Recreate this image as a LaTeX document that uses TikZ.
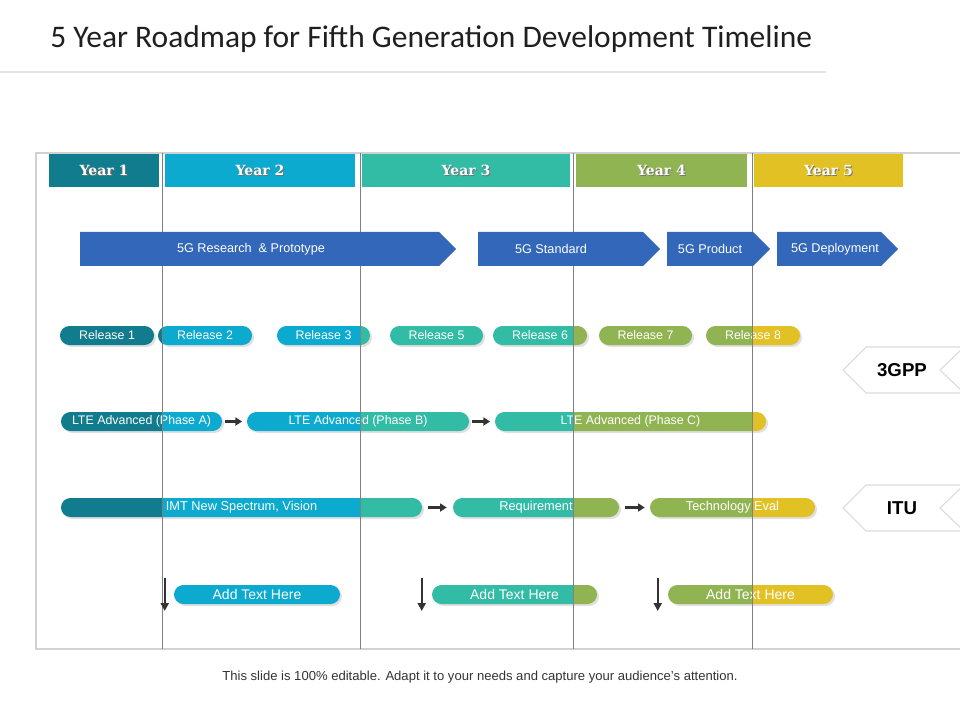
\documentclass[tikz,border=0pt]{standalone}
\usepackage{fontspec}
\setmainfont{Liberation Sans}
\newfontfamily\titlefont{Carlito}
\newfontfamily\yearfont{DejaVu Serif}
\usetikzlibrary{arrows.meta}
\definecolor{yA}{RGB}{16,124,141}
\definecolor{yB}{RGB}{12,170,206}
\definecolor{yC}{RGB}{50,187,165}
\definecolor{yD}{RGB}{145,180,82}
\definecolor{yE}{RGB}{226,193,36}
\definecolor{chevblue}{RGB}{50,103,186}
\definecolor{arrgray}{RGB}{51,51,51}
\tikzstyle{yearbox}=[draw=none,shape=rectangle,inner sep=0,minimum height=24.75pt]
\tikzstyle{yeartext}=[inner sep=0,text=white,font=\yearfont\bfseries\fontsize{10.5}{12}\selectfont]
\tikzstyle{chevtext}=[inner sep=0,text=white,font=\fontsize{9.5}{11}\selectfont]
\tikzstyle{pilltext}=[inner sep=0,shape=rectangle,text=white,minimum height=14.25pt]
\tikzstyle{tabline}=[draw=black!14,fill=white,line width=0.8pt]
\tikzstyle{tabtext}=[inner sep=0,font=\bfseries\fontsize{14}{16}\selectfont]
\tikzstyle{harrow}=[draw=arrgray,line width=1.7pt,-{Triangle[length=5pt,width=6pt]}]
\tikzstyle{darrow}=[draw=arrgray,line width=1.5pt,-{Triangle[length=6pt,width=6pt]}]
% pill: name, x1, x2, y, font size, text
\newcommand{\pill}[6]{%
  \fill[black,opacity=.12,rounded corners=7.1pt] (#2+2,#4-7.5) rectangle (#3+2,#4+11.5);
  \begin{scope}
    \clip[rounded corners=7.1pt] (#2,#4-9.5) rectangle (#3,#4+9.5);
    \foreach \a/\b/\c in {0/162/yA,162/360/yB,360/573/yC,573/752/yD,752/962/yE}
      \fill[\c] (\a,0) rectangle (\b,720);
  \end{scope}
  \node[pilltext,minimum width={(#3-#2)*0.75pt},font=\fontsize{#5}{#5}\selectfont] (#1) at ({(#2+#3)/2},#4) {#6};}
% chevron: name, x1, tip, text x, text
\newcommand{\chev}[5]{%
  \fill[chevblue] (#2,232) -- (#3-17,232) -- (#3,249) -- (#3-17,266) -- (#2,266) -- cycle;
  \node[chevtext] (#1) at (#4,249) {#5};}
% year header: name, centre, width, colour, text
\newcommand{\yearhead}[5]{%
  \node[yearbox,fill=#4,minimum width={#3*0.75pt}] (#1) at (#2,170.5) {};
  \node[yeartext,text=black!55] at ([shift={(1,1)}]#1.center) {#5};
  \node[yeartext] at (#1.center) {#5};}
% side tab: name, y, text
\newcommand{\sidetab}[3]{%
  \draw[tabline] (843,#2) -- (866,#2-23) -- (964,#2-23) -- (940,#2) -- (964,#2+23) -- (866,#2+23) -- cycle;
  \node[tabtext] (#1) at (902,#2) {#3};}

\begin{document}
\begin{tikzpicture}[x=0.75pt,y=-0.75pt]
\useasboundingbox (0,0) rectangle (960,720);
% title
\node[inner sep=0,anchor=base west,text=black!88,font=\titlefont\fontsize{23.6}{26}\selectfont] (title) at (50,48) {5 Year Roadmap for Fifth Generation Development Timeline};
\draw[black!10,line width=1pt] (0,72) -- (826,72);
% frame
\draw[black!18,line width=0.8pt] (964,153) -- (36,153) -- (36,649) -- (964,649);
% year headers
\yearhead{y1}{104}{110}{yA}{Year 1}
\yearhead{y2}{260}{190}{yB}{Year 2}
\yearhead{y3}{466}{208}{yC}{Year 3}
\yearhead{y4}{661.5}{171}{yD}{Year 4}
\yearhead{y5}{828.5}{149}{yE}{Year 5}
% releases
\pill{rel1}{60}{154}{335.5}{9.3}{Release 1}
\pill{rel2}{158}{252}{335.5}{9.3}{Release 2}
\pill{rel3}{277}{370}{335.5}{9.3}{Release 3}
\pill{rel5}{390}{483}{335.5}{9.3}{Release 5}
\pill{rel6}{493}{587}{335.5}{9.3}{Release 6}
\pill{rel7}{599}{692}{335.5}{9.3}{Release 7}
\pill{rel8}{706}{800}{335.5}{9.3}{Release 8}
% lte
\pill{lteA}{61}{222}{421.5}{9.3}{LTE Advanced (Phase A)}
\pill{lteB}{247}{469}{421.5}{9.3}{LTE Advanced (Phase B)}
\pill{lteC}{495}{766}{421.5}{9.3}{LTE Advanced (Phase C)}
% imt
\pill{imt}{61}{422}{507.5}{9.6}{IMT New Spectrum, Vision}
\pill{req}{453}{619}{507.5}{9.6}{Requirement}
\pill{tech}{650}{815}{507.5}{9.6}{Technology Eval}
% add text
\pill{add1}{174}{340}{594.5}{10.5}{Add Text Here}
\pill{add2}{432}{597}{594.5}{10.5}{Add Text Here}
\pill{add3}{668}{833}{594.5}{10.5}{Add Text Here}
% year dividers
\foreach \x in {162,360,573,752}
  \draw[black!50,line width=0.75pt] (\x,153) -- (\x,649);
% chevrons
\chev{research}{80}{456}{251}{5G Research \ \& Prototype}
\chev{standard}{478}{660}{551}{5G Standard}
\chev{product}{667}{770}{710}{5G Product}
\chev{deploy}{777}{898}{835}{5G Deployment}
% tabs
\sidetab{gpp}{370}{3GPP}
\sidetab{itu}{508}{ITU}
% arrows
\draw[harrow,shorten <=2.25pt,shorten >=3.5pt] (lteA.east) -- (lteB.west);
\draw[harrow,shorten <=2.25pt,shorten >=3.5pt] (lteB.east) -- (lteC.west);
\draw[harrow,shorten <=4.5pt,shorten >=4.5pt] (imt.east) -- (req.west);
\draw[harrow,shorten <=4.5pt,shorten >=3.75pt] (req.east) -- (tech.west);
\coordinate (d1s) at ([shift={(-9,-16.5)}]add1.west);
\coordinate (d1e) at ([shift={(-9,16.5)}]add1.west);
\coordinate (d2s) at ([shift={(-10,-16.5)}]add2.west);
\coordinate (d2e) at ([shift={(-10,16.5)}]add2.west);
\coordinate (d3s) at ([shift={(-10,-16.5)}]add3.west);
\coordinate (d3e) at ([shift={(-10,16.5)}]add3.west);
\draw[darrow] (d1s) -- (d1e);
\draw[darrow] (d2s) -- (d2e);
\draw[darrow] (d3s) -- (d3e);
% footer
\node[inner sep=0,anchor=base,text=black!80,font=\fontsize{9.8}{12}\selectfont] (foot) at (480,680) {This slide is 100\% editable. Adapt it to your needs and capture your audience's attention.};
\end{tikzpicture}
\end{document}
